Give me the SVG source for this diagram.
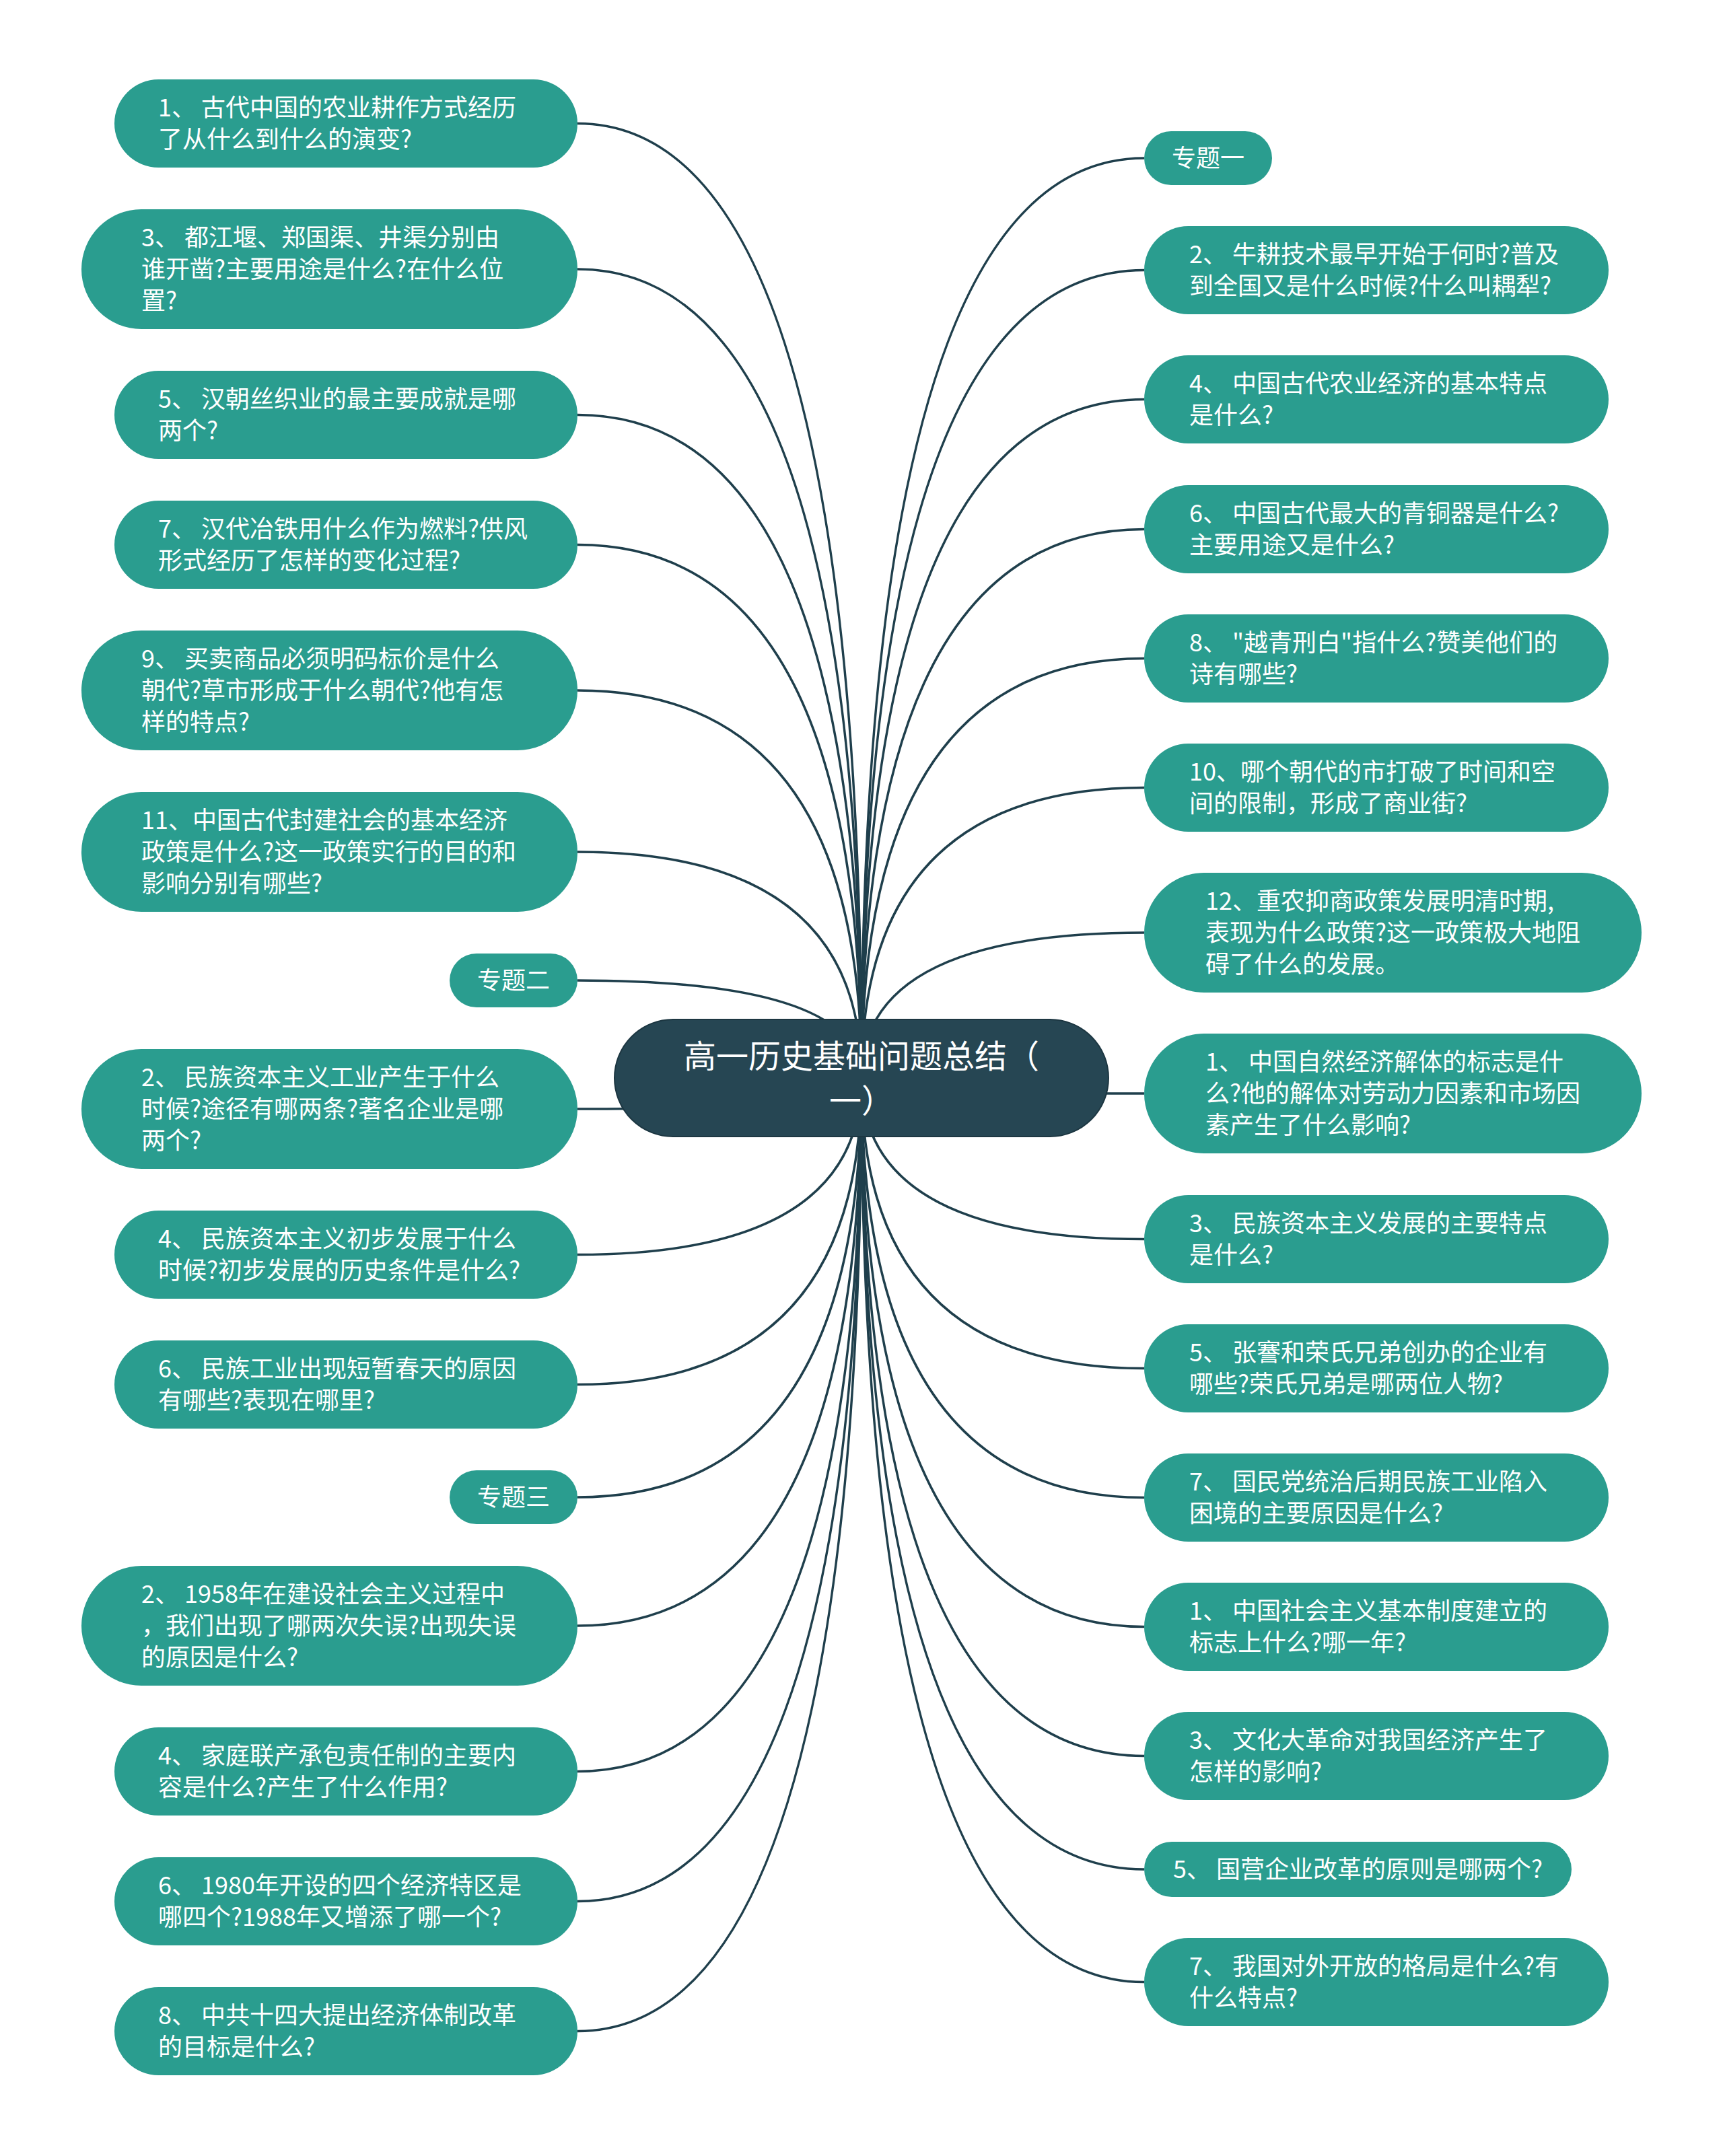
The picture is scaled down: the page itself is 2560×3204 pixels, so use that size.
<svg xmlns="http://www.w3.org/2000/svg" width="2560" height="3204" viewBox="0 0 2560 3204">
<style>
.bg{fill:#ffffff}
.n{fill:#2a9d8f}
.c{fill:#264653;stroke:#1d3742;stroke-width:2}
.t{font-family:"Noto Sans CJK SC","Noto Sans",sans-serif;font-size:36px;fill:#ffffff}
.tc{font-family:"Noto Sans CJK SC","Noto Sans",sans-serif;font-size:48px;fill:#ffffff;text-anchor:middle}
.mid{text-anchor:middle}
.e{fill:none;stroke:#1f3f4c;stroke-width:3.5}
</style>
<rect class="bg" x="0" y="0" width="2560" height="3204"/>
<g id="connectors">
<path class="e" d="M1280 1602 Q1280 183.5 858 183.5"/>
<path class="e" d="M1280 1602 Q1280 400 858 400"/>
<path class="e" d="M1280 1602 Q1280 616.5 858 616.5"/>
<path class="e" d="M1280 1602 Q1280 809.5 858 809.5"/>
<path class="e" d="M1280 1602 Q1280 1026 858 1026"/>
<path class="e" d="M1280 1602 Q1280 1266 858 1266"/>
<path class="e" d="M1280 1602 Q1280 1457 858 1457"/>
<path class="e" d="M1280 1602 Q1280 1648 858 1648"/>
<path class="e" d="M1280 1602 Q1280 1864.5 858 1864.5"/>
<path class="e" d="M1280 1602 Q1280 2057.5 858 2057.5"/>
<path class="e" d="M1280 1602 Q1280 2225 858 2225"/>
<path class="e" d="M1280 1602 Q1280 2416 858 2416"/>
<path class="e" d="M1280 1602 Q1280 2632.5 858 2632.5"/>
<path class="e" d="M1280 1602 Q1280 2825.5 858 2825.5"/>
<path class="e" d="M1280 1602 Q1280 3018.5 858 3018.5"/>
<path class="e" d="M1280 1602 Q1280 235 1700 235"/>
<path class="e" d="M1280 1602 Q1280 401.5 1700 401.5"/>
<path class="e" d="M1280 1602 Q1280 593.5 1700 593.5"/>
<path class="e" d="M1280 1602 Q1280 786.5 1700 786.5"/>
<path class="e" d="M1280 1602 Q1280 978.5 1700 978.5"/>
<path class="e" d="M1280 1602 Q1280 1170.5 1700 1170.5"/>
<path class="e" d="M1280 1602 Q1280 1386 1700 1386"/>
<path class="e" d="M1280 1602 Q1280 1625 1700 1625"/>
<path class="e" d="M1280 1602 Q1280 1841.5 1700 1841.5"/>
<path class="e" d="M1280 1602 Q1280 2033.5 1700 2033.5"/>
<path class="e" d="M1280 1602 Q1280 2225.5 1700 2225.5"/>
<path class="e" d="M1280 1602 Q1280 2417.5 1700 2417.5"/>
<path class="e" d="M1280 1602 Q1280 2609.5 1700 2609.5"/>
<path class="e" d="M1280 1602 Q1280 2778 1700 2778"/>
<path class="e" d="M1280 1602 Q1280 2945.5 1700 2945.5"/>
</g>
<g id="center">
<rect class="c" x="913" y="1515" width="734" height="174" rx="87"/>
<text class="tc" x="1280" y="1587">高一历史基础问题总结（</text>
<text class="tc" x="1280" y="1653">一）</text>
</g>
<g id="L1"><rect class="n" x="170" y="118" width="688" height="131" rx="65.5"/><text class="t" x="235" y="172.5">1、 古代中国的农业耕作方式经历</text><text class="t" x="235" y="219.5">了从什么到什么的演变?</text></g>
<g id="L2"><rect class="n" x="121" y="311" width="737" height="178" rx="89"/><text class="t" x="210" y="365.5">3、 都江堰、郑国渠、井渠分别由</text><text class="t" x="210" y="412.5">谁开凿?主要用途是什么?在什么位</text><text class="t" x="210" y="459.5">置?</text></g>
<g id="L3"><rect class="n" x="170" y="551" width="688" height="131" rx="65.5"/><text class="t" x="235" y="605.5">5、 汉朝丝织业的最主要成就是哪</text><text class="t" x="235" y="652.5">两个?</text></g>
<g id="L4"><rect class="n" x="170" y="744" width="688" height="131" rx="65.5"/><text class="t" x="235" y="798.5">7、 汉代冶铁用什么作为燃料?供风</text><text class="t" x="235" y="845.5">形式经历了怎样的变化过程?</text></g>
<g id="L5"><rect class="n" x="121" y="937" width="737" height="178" rx="89"/><text class="t" x="210" y="991.5">9、 买卖商品必须明码标价是什么</text><text class="t" x="210" y="1038.5">朝代?草市形成于什么朝代?他有怎</text><text class="t" x="210" y="1085.5">样的特点?</text></g>
<g id="L6"><rect class="n" x="121" y="1177" width="737" height="178" rx="89"/><text class="t" x="210" y="1231.5">11、中国古代封建社会的基本经济</text><text class="t" x="210" y="1278.5">政策是什么?这一政策实行的目的和</text><text class="t" x="210" y="1325.5">影响分别有哪些?</text></g>
<g id="L7"><rect class="n" x="668" y="1417" width="190" height="80" rx="40"/><text class="t mid" x="763" y="1469.5">专题二</text></g>
<g id="L8"><rect class="n" x="121" y="1559" width="737" height="178" rx="89"/><text class="t" x="210" y="1613.5">2、 民族资本主义工业产生于什么</text><text class="t" x="210" y="1660.5">时候?途径有哪两条?著名企业是哪</text><text class="t" x="210" y="1707.5">两个?</text></g>
<g id="L9"><rect class="n" x="170" y="1799" width="688" height="131" rx="65.5"/><text class="t" x="235" y="1853.5">4、 民族资本主义初步发展于什么</text><text class="t" x="235" y="1900.5">时候?初步发展的历史条件是什么?</text></g>
<g id="L10"><rect class="n" x="170" y="1992" width="688" height="131" rx="65.5"/><text class="t" x="235" y="2046.5">6、 民族工业出现短暂春天的原因</text><text class="t" x="235" y="2093.5">有哪些?表现在哪里?</text></g>
<g id="L11"><rect class="n" x="668" y="2185" width="190" height="80" rx="40"/><text class="t mid" x="763" y="2237.5">专题三</text></g>
<g id="L12"><rect class="n" x="121" y="2327" width="737" height="178" rx="89"/><text class="t" x="210" y="2381.5">2、 1958年在建设社会主义过程中</text><text class="t" x="210" y="2428.5">，我们出现了哪两次失误?出现失误</text><text class="t" x="210" y="2475.5">的原因是什么?</text></g>
<g id="L13"><rect class="n" x="170" y="2567" width="688" height="131" rx="65.5"/><text class="t" x="235" y="2621.5">4、 家庭联产承包责任制的主要内</text><text class="t" x="235" y="2668.5">容是什么?产生了什么作用?</text></g>
<g id="L14"><rect class="n" x="170" y="2760" width="688" height="131" rx="65.5"/><text class="t" x="235" y="2814.5">6、 1980年开设的四个经济特区是</text><text class="t" x="235" y="2861.5">哪四个?1988年又增添了哪一个?</text></g>
<g id="L15"><rect class="n" x="170" y="2953" width="688" height="131" rx="65.5"/><text class="t" x="235" y="3007.5">8、 中共十四大提出经济体制改革</text><text class="t" x="235" y="3054.5">的目标是什么?</text></g>
<g id="R1"><rect class="n" x="1700" y="195" width="190" height="80" rx="40"/><text class="t mid" x="1795" y="247.5">专题一</text></g>
<g id="R2"><rect class="n" x="1700" y="336" width="690" height="131" rx="65.5"/><text class="t" x="1767" y="390.5">2、 牛耕技术最早开始于何时?普及</text><text class="t" x="1767" y="437.5">到全国又是什么时候?什么叫耦犁?</text></g>
<g id="R3"><rect class="n" x="1700" y="528" width="690" height="131" rx="65.5"/><text class="t" x="1767" y="582.5">4、 中国古代农业经济的基本特点</text><text class="t" x="1767" y="629.5">是什么?</text></g>
<g id="R4"><rect class="n" x="1700" y="721" width="690" height="131" rx="65.5"/><text class="t" x="1767" y="775.5">6、 中国古代最大的青铜器是什么?</text><text class="t" x="1767" y="822.5">主要用途又是什么?</text></g>
<g id="R5"><rect class="n" x="1700" y="913" width="690" height="131" rx="65.5"/><text class="t" x="1767" y="967.5">8、 "越青刑白"指什么?赞美他们的</text><text class="t" x="1767" y="1014.5">诗有哪些?</text></g>
<g id="R6"><rect class="n" x="1700" y="1105" width="690" height="131" rx="65.5"/><text class="t" x="1767" y="1159.5">10、哪个朝代的市打破了时间和空</text><text class="t" x="1767" y="1206.5">间的限制，形成了商业街?</text></g>
<g id="R7"><rect class="n" x="1700" y="1297" width="739" height="178" rx="89"/><text class="t" x="1791" y="1351.5">12、重农抑商政策发展明清时期,</text><text class="t" x="1791" y="1398.5">表现为什么政策?这一政策极大地阻</text><text class="t" x="1791" y="1445.5">碍了什么的发展。</text></g>
<g id="R8"><rect class="n" x="1700" y="1536" width="739" height="178" rx="89"/><text class="t" x="1791" y="1590.5">1、 中国自然经济解体的标志是什</text><text class="t" x="1791" y="1637.5">么?他的解体对劳动力因素和市场因</text><text class="t" x="1791" y="1684.5">素产生了什么影响?</text></g>
<g id="R9"><rect class="n" x="1700" y="1776" width="690" height="131" rx="65.5"/><text class="t" x="1767" y="1830.5">3、 民族资本主义发展的主要特点</text><text class="t" x="1767" y="1877.5">是什么?</text></g>
<g id="R10"><rect class="n" x="1700" y="1968" width="690" height="131" rx="65.5"/><text class="t" x="1767" y="2022.5">5、 张謇和荣氏兄弟创办的企业有</text><text class="t" x="1767" y="2069.5">哪些?荣氏兄弟是哪两位人物?</text></g>
<g id="R11"><rect class="n" x="1700" y="2160" width="690" height="131" rx="65.5"/><text class="t" x="1767" y="2214.5">7、 国民党统治后期民族工业陷入</text><text class="t" x="1767" y="2261.5">困境的主要原因是什么?</text></g>
<g id="R12"><rect class="n" x="1700" y="2352" width="690" height="131" rx="65.5"/><text class="t" x="1767" y="2406.5">1、 中国社会主义基本制度建立的</text><text class="t" x="1767" y="2453.5">标志上什么?哪一年?</text></g>
<g id="R13"><rect class="n" x="1700" y="2544" width="690" height="131" rx="65.5"/><text class="t" x="1767" y="2598.5">3、 文化大革命对我国经济产生了</text><text class="t" x="1767" y="2645.5">怎样的影响?</text></g>
<g id="R14"><rect class="n" x="1700" y="2737" width="635" height="82" rx="41"/><text class="t" x="1743" y="2790.5">5、 国营企业改革的原则是哪两个?</text></g>
<g id="R15"><rect class="n" x="1700" y="2880" width="690" height="131" rx="65.5"/><text class="t" x="1767" y="2934.5">7、 我国对外开放的格局是什么?有</text><text class="t" x="1767" y="2981.5">什么特点?</text></g>
</svg>
